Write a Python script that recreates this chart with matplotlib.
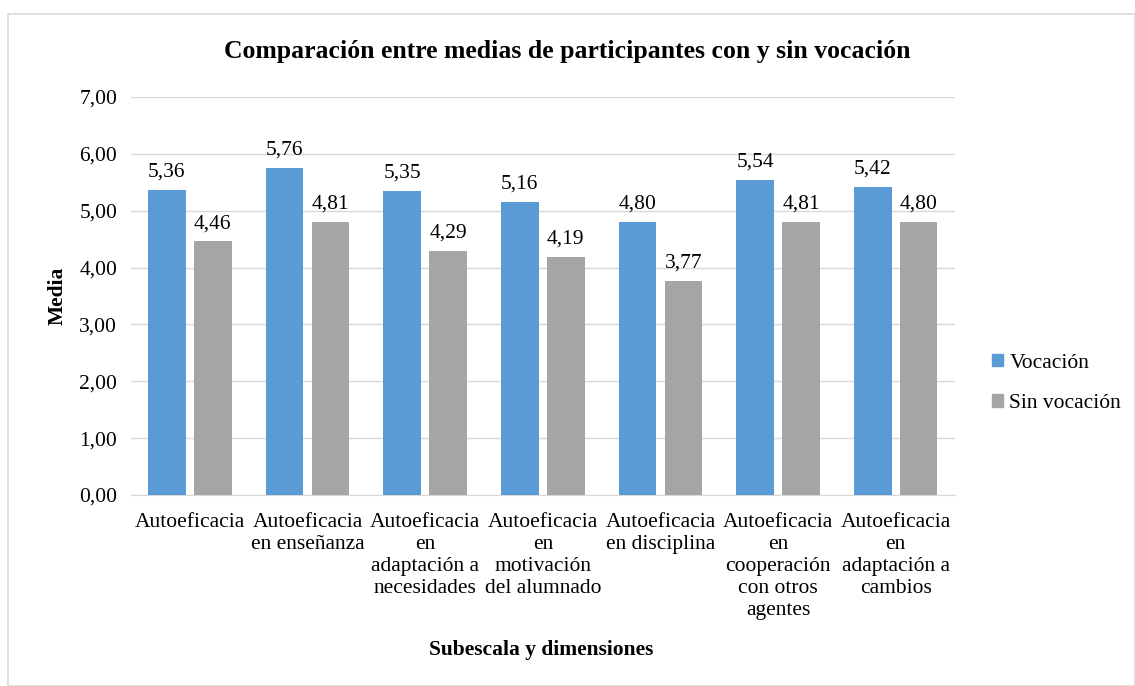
import numpy as np
import matplotlib
matplotlib.use("Agg")
import matplotlib.pyplot as plt
from matplotlib.patches import Rectangle, Patch

# Datos
categorias = ["Autoeficacia",
              "Autoeficacia\nen enseñanza",
              "Autoeficacia\nen\nadaptación a\nnecesidades",
              "Autoeficacia\nen\nmotivación\ndel alumnado",
              "Autoeficacia\nen disciplina",
              "Autoeficacia\nen\ncooperación\ncon otros\nagentes",
              "Autoeficacia\nen\nadaptación a\ncambios"]
vocacion = [5.36, 5.76, 5.35, 5.16, 4.80, 5.54, 5.42]
sin_vocacion = [4.46, 4.81, 4.29, 4.19, 3.77, 4.81, 4.80]
yticks = [0, 1, 2, 3, 4, 5, 6, 7]

plt.rcParams['font.family'] = ['Liberation Serif', 'DejaVu Serif']
fs = 15.5

fig = plt.figure(figsize=(11.35, 6.86), dpi=100)
ax = fig.add_axes([0.1154, 0.2784, 0.7256, 0.5802])

# Borde del grafico
fig.patches.append(Rectangle((8/1135, 0), 1 - 8/1135, 1 - 14/686,
                             transform=fig.transFigure, fill=False,
                             edgecolor='#D9D9D9', linewidth=1.2))

x = np.arange(len(categorias))
w = 0.32
off = 0.195
b1 = ax.bar(x - off, vocacion, w, color='#5B9BD5', label='Vocación', zorder=3)
b2 = ax.bar(x + off, sin_vocacion, w, color='#A5A5A5', label='Sin vocación', zorder=3)

for bars, vals in ((b1, vocacion), (b2, sin_vocacion)):
    for r, v in zip(bars, vals):
        ax.annotate(('%.2f' % v).replace('.', ','),
                    (r.get_x() + r.get_width() / 2, v),
                    xytext=(0, 6), textcoords='offset points',
                    ha='center', va='bottom', fontsize=fs)

ax.set_xlim(-0.5, len(categorias) - 0.5)
ax.set_ylim(0, 7)
ax.set_yticks(yticks)
ax.set_yticklabels([('%.2f' % t).replace('.', ',') for t in yticks], fontsize=fs)
ax.set_xticks(x)
ax.set_xticklabels(categorias, fontsize=fs, linespacing=1.22, va='top')
ax.tick_params(length=0)
ax.tick_params(axis='x', pad=13)
ax.tick_params(axis='y', pad=10)
ax.grid(axis='y', color='#D9D9D9', linewidth=1, zorder=0)
for s in ('top', 'right', 'left'):
    ax.spines[s].set_visible(False)
ax.spines['bottom'].set_color('#D9D9D9')

ax.set_ylabel('Media', fontsize=fs, fontweight='bold', labelpad=8)
fig.text(0.477, 0.052, 'Subescala y dimensiones', ha='center', va='center',
         fontsize=fs, fontweight='bold')
fig.text(0.5, 0.925, 'Comparación entre medias de participantes con y sin vocación',
         ha='center', va='center', fontsize=18.5, fontweight='bold')

handles = [Patch(color='#5B9BD5', label='Vocación'),
           Patch(color='#A5A5A5', label='Sin vocación')]
fig.legend(handles=handles, loc='center left', bbox_to_anchor=(0.857, 0.441),
           frameon=False, fontsize=fs, handlelength=0.5, handleheight=0.5,
           handletextpad=0.3, labelspacing=1.0)

fig.savefig('out.png', dpi=100)
